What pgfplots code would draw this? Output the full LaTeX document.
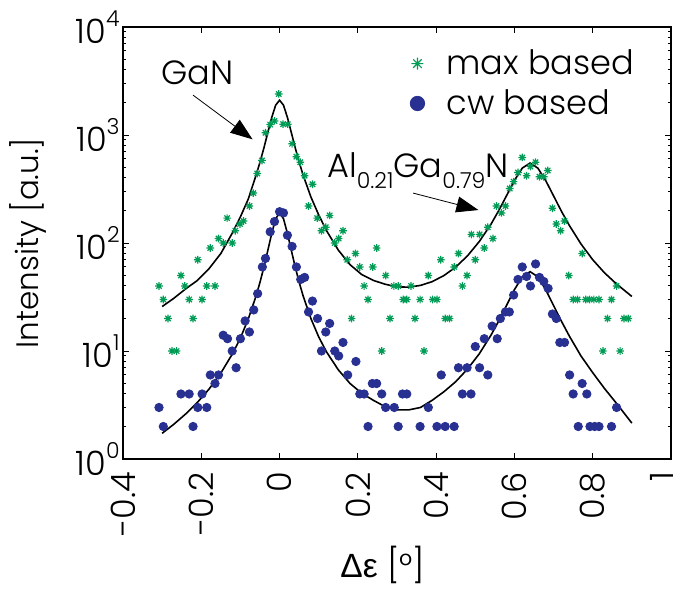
\documentclass[border=0pt]{standalone}
\usepackage{fontspec}
\setmainfont{Poppins Light}
\newfontfamily\grk{Liberation Sans}
\usepackage{pgfplots}
\pgfplotsset{compat=1.18}
\usetikzlibrary{arrows.meta}
\definecolor{mxgreen}{RGB}{0,155,85}
\definecolor{cwblue}{RGB}{40,48,145}
\newcommand{\bigf}{\fontsize{16.8}{20}\selectfont}
\newcommand{\ex}[1]{\raisebox{0.5em}{\fontsize{11}{12}\selectfont #1}}
\newcommand{\sub}[1]{\raisebox{-0.3em}{\fontsize{11}{12}\selectfont #1}}

% matlab style '*' marker: plus and cross together
\pgfdeclareplotmark{ast8}{%
  \pgfpathmoveto{\pgfqpoint{0pt}{\pgfplotmarksize}}%
  \pgfpathlineto{\pgfqpoint{0pt}{-\pgfplotmarksize}}%
  \pgfpathmoveto{\pgfqpoint{\pgfplotmarksize}{0pt}}%
  \pgfpathlineto{\pgfqpoint{-\pgfplotmarksize}{0pt}}%
  \pgfpathmoveto{\pgfqpoint{0.707\pgfplotmarksize}{0.707\pgfplotmarksize}}%
  \pgfpathlineto{\pgfqpoint{-0.707\pgfplotmarksize}{-0.707\pgfplotmarksize}}%
  \pgfpathmoveto{\pgfqpoint{-0.707\pgfplotmarksize}{0.707\pgfplotmarksize}}%
  \pgfpathlineto{\pgfqpoint{0.707\pgfplotmarksize}{-0.707\pgfplotmarksize}}%
  \pgfusepathqstroke}

\begin{document}
\begin{tikzpicture}
\begin{axis}[
  scale only axis, width=274pt, height=216pt,
  xmin=-0.4, xmax=1, ymode=log, ymin=1, ymax=10000,
  xtick={-0.4,-0.2,0,0.2,0.4,0.6,0.8},
  xticklabels={-0.4,-0.2,0,0.2,0.4,0.6,0.8},
  extra x ticks={1}, extra x tick labels={1},
  extra x tick style={xticklabel style={yshift=4.5pt}},
  ytick={1,10,100,1000,10000},
  yticklabels={10\ex{0},10\ex{1},10\ex{2},10\ex{3},10\ex{4}},
  tick align=inside,
  major tick length=2.8pt, minor tick length=1.6pt,
  axis line style={line width=0.8pt},
  every tick/.style={black, line width=0.5pt},
  xticklabel style={rotate=90, anchor=east, font=\bigf},
  xticklabel shift=3pt,
  yticklabel style={font=\bigf, inner xsep=1.5pt},
  xlabel={{\grk Δε} [°]},
  xlabel style={font=\bigf, at={(axis description cs:0.474,0)}, yshift=-53pt, anchor=center},
  ylabel={Intensity [a.u.]},
  ylabel style={font=\fontsize{15.5}{18}\selectfont, at={(axis description cs:-0.1734,0.5)}, anchor=center},
  legend style={at={(axis description cs:0.5125,0.967)}, anchor=north west,
    draw=none, fill=none, font=\bigf, row sep=2pt},
  legend cell align=left,
  clip=false,
]
\addlegendimage{only marks, mark=ast8, mark size=3pt, color=mxgreen, line width=0.6pt}
\addlegendentry{\hspace{9pt}max based}
\addlegendimage{only marks, mark=*, mark size=3.6pt, color=cwblue}
\addlegendentry{\hspace{9pt}cw based}
\addplot[only marks, mark=ast8, mark size=1.9pt, color=mxgreen, line width=0.6pt, forget plot] coordinates {
(-0.308,40)(-0.297,30)(-0.285,20)(-0.275,10)(-0.263,10)(-0.252,50)(-0.242,40)
(-0.231,30)(-0.221,20)(-0.209,70)(-0.198,30)(-0.186,40)(-0.177,90)(-0.165,40)
(-0.156,110)(-0.144,100)(-0.134,170)(-0.121,100)(-0.113,130)(-0.101,150)
(-0.092,160)(-0.077,220)(-0.067,290)(-0.057,440)(-0.045,580)(-0.036,1050)
(-0.024,1250)(-0.013,1350)(-0.002,2400)(0.009,1260)(0.021,1260)(0.032,830)
(0.043,630)(0.053,560)(0.064,420)(0.074,220)(0.084,350)(0.096,170)(0.107,130)
(0.118,140)(0.128,180)(0.141,100)(0.151,110)(0.162,130)(0.173,70)(0.184,20)
(0.194,80)(0.205,60)(0.216,40)(0.226,30)(0.238,60)(0.248,90)(0.261,10)
(0.271,50)(0.282,20)(0.292,40)(0.303,40)(0.316,30)(0.325,30)(0.336,40)
(0.346,20)(0.359,30)(0.369,10)(0.380,50)(0.391,30)(0.402,30)(0.412,70)
(0.423,20)(0.434,20)(0.446,60)(0.457,80)(0.467,40)(0.479,50)(0.490,120)
(0.500,70)(0.511,120)(0.523,90)(0.532,140)(0.545,110)(0.554,220)(0.567,190)
(0.577,220)(0.588,320)(0.598,370)(0.609,450)(0.620,620)(0.631,420)(0.641,510)
(0.654,560)(0.664,410)(0.675,410)(0.685,470)(0.697,210)(0.707,150)(0.718,130)
(0.728,160)(0.739,50)(0.750,30)(0.761,30)(0.773,80)(0.782,30)(0.792,30)
(0.803,30)(0.816,30)(0.826,10)(0.838,20)(0.848,30)(0.861,40)(0.870,10)
(0.880,20)(0.891,20)
};
\addplot[only marks, mark=*, mark size=2.1pt, color=cwblue, forget plot] coordinates {
(-0.308,3)(-0.297,2)(-0.252,4)(-0.231,4)(-0.221,2)(-0.209,3)(-0.198,4)
(-0.186,3)(-0.177,6)(-0.165,5)(-0.156,6)(-0.144,14)(-0.133,13)(-0.121,10)
(-0.111,7)(-0.100,13)(-0.088,19)(-0.077,15)(-0.066,24)(-0.056,34)(-0.044,60)
(-0.036,72)(-0.024,127)(-0.013,158)(0.000,195)(0.010,190)(0.020,118)(0.032,93)
(0.043,60)(0.054,46)(0.064,48)(0.074,23)(0.084,29)(0.097,20)(0.107,10)
(0.118,15)(0.128,18)(0.141,10)(0.151,9)(0.162,12)(0.174,6)(0.195,8)(0.205,4)
(0.216,4)(0.226,2)(0.237,5)(0.248,5)(0.261,4)(0.271,3)(0.293,3)(0.303,2)
(0.314,4)(0.325,4)(0.359,2)(0.380,3)(0.402,2)(0.413,6)(0.423,2)(0.446,2)
(0.457,7)(0.467,4)(0.479,7)(0.489,4)(0.500,11)(0.511,7)(0.523,13)(0.532,6)
(0.543,17)(0.556,13)(0.564,20)(0.577,23)(0.587,23)(0.598,33)(0.609,46)
(0.620,60)(0.631,49)(0.641,40)(0.654,64)(0.664,48)(0.675,44)(0.686,38)
(0.697,22)(0.707,20)(0.716,12)(0.728,12)(0.741,6)(0.750,4)(0.763,2)(0.773,5)
(0.785,4)(0.793,2)(0.805,2)(0.816,2)(0.848,2)(0.861,3)
};
% fitted curves
\addplot[black, line width=0.8pt, forget plot] coordinates {
(-0.30,25.8)(-0.27,30.8)(-0.24,37.6)(-0.21,45)(-0.18,58)(-0.15,80)(-0.12,125)
(-0.10,175)(-0.08,255)(-0.06,425)(-0.05,561)(-0.04,760)(-0.03,1053)(-0.02,1456)
(-0.01,1890)(0,2100)(0.01,1890)(0.02,1456)(0.03,1054)(0.04,761)(0.05,562)
(0.06,427)(0.08,267)(0.10,182)(0.12,130)(0.15,86)(0.18,63)(0.21,51)(0.24,45)
(0.27,41.5)(0.30,39.3)(0.33,39)(0.36,40.5)(0.39,43.9)(0.42,50)(0.45,59.9)
(0.48,76)(0.51,103)(0.54,149)(0.56,200)(0.58,275)(0.60,380)(0.62,494)(0.64,550)
(0.66,493)(0.68,378)(0.70,273)(0.72,197)(0.74,146)(0.77,98)(0.80,70)(0.83,53)
(0.86,42)(0.90,32)
};
\addplot[black, line width=0.8pt, forget plot] coordinates {
(-0.30,1.73)(-0.27,2.10)(-0.24,2.61)(-0.21,3.34)(-0.18,4.45)(-0.15,6.25)
(-0.12,9.47)(-0.10,13.2)(-0.08,19.8)(-0.06,32.4)(-0.05,43.3)(-0.04,59.9)
(-0.03,85.4)(-0.02,123)(-0.01,168)(0,190)(0.01,168)(0.02,123)(0.03,85.5)
(0.04,60.0)(0.05,43.4)(0.06,32.5)(0.08,20.0)(0.10,13.5)(0.12,9.8)(0.15,6.7)
(0.18,5.0)(0.21,4.06)(0.24,3.49)(0.27,3.05)(0.30,2.85)(0.33,2.85)(0.36,3.0)
(0.39,3.5)(0.42,4.2)(0.45,5.2)(0.48,6.8)(0.51,9.4)(0.54,14.0)(0.56,19.0)
(0.58,26.5)(0.60,37)(0.62,48.6)(0.64,54.3)(0.66,48.6)(0.68,36.9)(0.70,26.4)
(0.72,18.9)(0.74,13.8)(0.77,9.0)(0.80,6.3)(0.83,4.5)(0.86,3.3)(0.90,2.15)
};
\node[font=\bigf, anchor=center] at (axis cs:-0.21,3800) {GaN};
\draw[line width=0.4pt, -{Triangle[length=11pt,width=8pt]}] (axis cs:-0.221,2340) -- (axis cs:-0.069,912);
\node[font=\bigf, anchor=base west, inner sep=0pt] at (axis cs:0.121,400) {Al\sub{0.21}Ga\sub{0.79}N};
\draw[line width=0.4pt, -{Triangle[length=11pt,width=8pt]}] (axis cs:0.341,290) -- (axis cs:0.508,202);
\end{axis}
\pgfresetboundingbox
\useasboundingbox (-61.5pt,-65pt) rectangle (275pt,229.5pt);
\end{tikzpicture}
\end{document}
